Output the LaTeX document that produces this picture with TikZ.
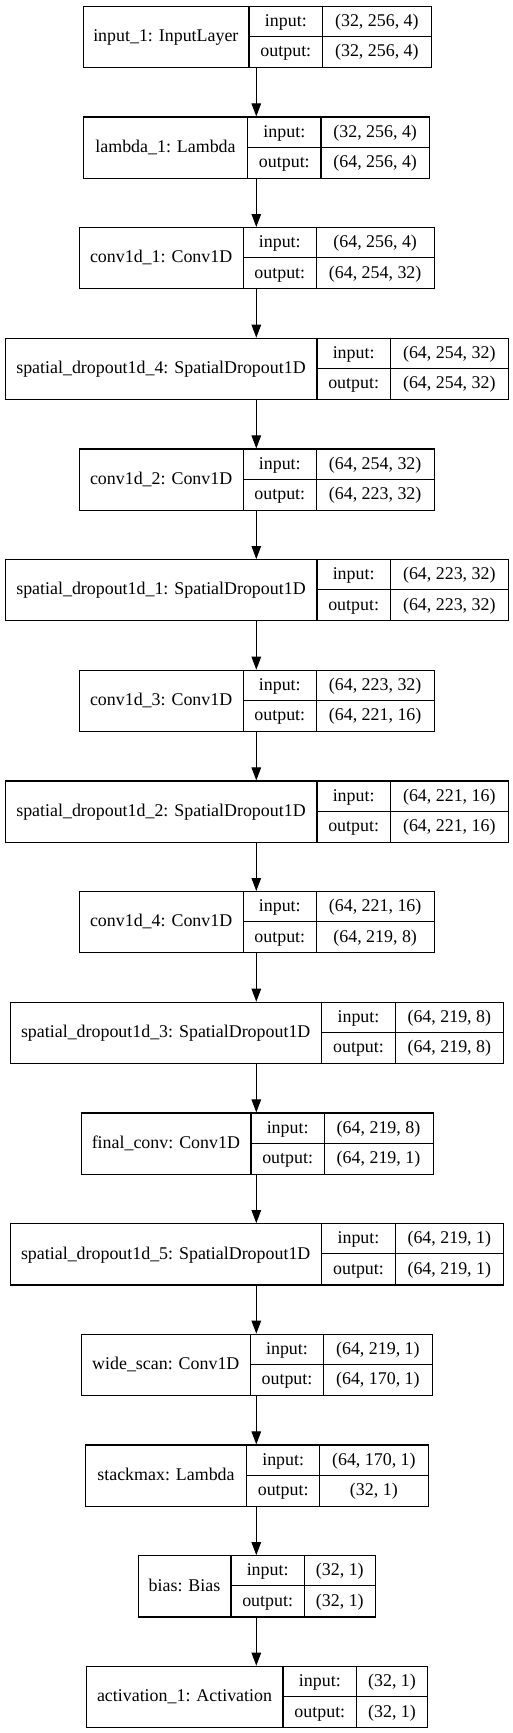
\documentclass[tikz,border=0pt]{standalone}
\usepackage{fontspec}
\setmainfont{Liberation Serif}
\usetikzlibrary{arrows.meta}
\tikzset{
  box/.style={draw, line width=1.1pt, rectangle, inner sep=0pt, anchor=north west, minimum height=61.3pt},
  divider/.style={line width=1.1pt},
  txt/.style={inner sep=0pt, anchor=center, font=\fontsize{17.9}{21}\selectfont, text height=14.5pt, text depth=3.9pt},
  arr/.style={line width=1.1pt, -{Triangle[length=13pt,width=9.5pt]}}
}
% #1 name, #2 top, #3 x0, #4 x1, #5 x2, #6 x3, #7 label, #8 input, #9 output
\newcommand\layerbox[9]{%
  \node[box, minimum width={(#6-#3)*1pt}] (#1) at (#3,#2) {};
  \draw[divider] (#4,#2) -- ({#4},{#2+61.3});
  \draw[divider] (#5,#2) -- ({#5},{#2+61.3});
  \draw[divider] ({#4},{#2+30.65}) -- ({#6},{#2+30.65});
  \node[txt] (#1l) at ({(#3+#4)/2},{#2+30.65}) {#7};
  \node[txt] (#1a) at ({(#4+#5)/2},{#2+15.33}) {input:};
  \node[txt] (#1b) at ({(#4+#5)/2},{#2+45.98}) {output:};
  \node[txt] (#1c) at ({(#5+#6)/2},{#2+15.33}) {#8};
  \node[txt] (#1d) at ({(#5+#6)/2},{#2+45.98}) {#9};
}
\begin{document}
\begin{tikzpicture}[x=1pt,y=-1pt]
\useasboundingbox (0,0) rectangle (513,1733);
\coordinate (ax) at (256.3,0);
\layerbox{b1}{5.7}{82.7}{249}{322.7}{431}{input\_1: InputLayer}{(32, 256, 4)}{(32, 256, 4)}
\layerbox{b2}{116.4}{83.3}{247.7}{321}{429.3}{lambda\_1: Lambda}{(32, 256, 4)}{(64, 256, 4)}
\layerbox{b3}{227.0}{79}{243.3}{316.3}{434}{conv1d\_1: Conv1D}{(64, 256, 4)}{(64, 254, 32)}
\layerbox{b4}{337.7}{5}{317}{390.3}{508.3}{spatial\_dropout1d\_4: SpatialDropout1D}{(64, 254, 32)}{(64, 254, 32)}
\layerbox{b5}{448.4}{79}{243.3}{316.3}{434}{conv1d\_2: Conv1D}{(64, 254, 32)}{(64, 223, 32)}
\layerbox{b6}{559.0}{5}{317}{390.3}{508.3}{spatial\_dropout1d\_1: SpatialDropout1D}{(64, 223, 32)}{(64, 223, 32)}
\layerbox{b7}{669.7}{79}{243.3}{316.3}{434}{conv1d\_3: Conv1D}{(64, 223, 32)}{(64, 221, 16)}
\layerbox{b8}{780.4}{5}{317}{390.3}{508.3}{spatial\_dropout1d\_2: SpatialDropout1D}{(64, 221, 16)}{(64, 221, 16)}
\layerbox{b9}{891.0}{79}{243.3}{316.3}{434}{conv1d\_4: Conv1D}{(64, 221, 16)}{(64, 219, 8)}
\layerbox{b10}{1001.7}{9.7}{321.7}{395.3}{503.3}{spatial\_dropout1d\_3: SpatialDropout1D}{(64, 219, 8)}{(64, 219, 8)}
\layerbox{b11}{1112.4}{80.7}{251}{324.3}{432.7}{final\_conv: Conv1D}{(64, 219, 8)}{(64, 219, 1)}
\layerbox{b12}{1223.1}{9.7}{321.7}{395.3}{503.3}{spatial\_dropout1d\_5: SpatialDropout1D}{(64, 219, 1)}{(64, 219, 1)}
\layerbox{b13}{1333.7}{81.3}{250.3}{323.7}{432}{wide\_scan: Conv1D}{(64, 219, 1)}{(64, 170, 1)}
\layerbox{b14}{1444.4}{85.3}{246.7}{319.7}{428}{stackmax: Lambda}{(64, 170, 1)}{(32, 1)}
\layerbox{b15}{1555.1}{138}{231}{304.3}{375.3}{bias: Bias}{(32, 1)}{(32, 1)}
\layerbox{b16}{1665.7}{86}{283}{356.7}{427.3}{activation\_1: Activation}{(32, 1)}{(32, 1)}
\foreach \a/\b in {b1/b2,b2/b3,b3/b4,b4/b5,b5/b6,b6/b7,b7/b8,b8/b9,b9/b10,b10/b11,b11/b12,b12/b13,b13/b14,b14/b15,b15/b16}
  \draw[arr] (\a.south -| ax) -- (\b.north -| ax);
\end{tikzpicture}
\end{document}
